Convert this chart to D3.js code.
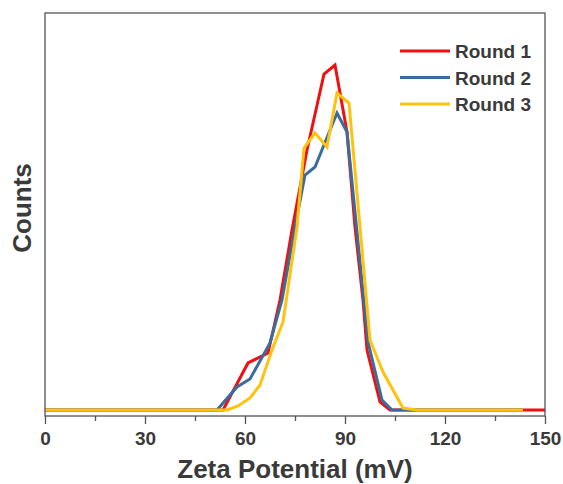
<script src="https://d3js.org/d3.v7.min.js"></script>
<style>
  body { margin: 0; background: #fff; }
  text { font-family: "Liberation Sans", Arial, sans-serif; font-weight: bold; fill: #3a3a3a; }
</style>
<svg id="vis"></svg>
<script>
  // zeta potential (mV) vs counts
  var round1 = [[0,0],[53.4,0],[60.9,47],[66.9,57],[70.5,110],[74.1,180],[78.6,260],[83.7,336],[87,345],
                [90.6,278],[93,183],[95.4,110],[96.6,60],[100.5,8],[103.5,0],[150,0]];
  var round2 = [[0,0],[51.6,0],[57.6,23],[61.5,31],[67.5,67],[71.1,110],[75,183],[78,235],[81,243],
                [87.6,297],[90.6,278],[96.9,68],[101.1,10],[104.1,0],[143.4,0]];
  var round3 = [[0,0],[54.6,0],[57.9,4],[61.5,12],[64.5,25],[68.1,60],[71.4,88],[75.6,183],[77.7,262],
                [81,277],[84.6,263],[87.6,317],[91.2,307],[94.5,183],[97.5,70],[101.4,38],[107.4,2],
                [111.6,0],[143.4,0]];
  var seriesNames = ['Round 1', 'Round 2', 'Round 3'];
  var colors = ['#ee1111', '#3b6c9e', '#ffc30f'];
  var xTicks = [0, 30, 60, 90, 120, 150];
  var xMinor = [15, 45, 75, 105, 135];

  var width = 563, height = 484;
  var plotL = 45, plotR = 545, plotT = 13, plotB = 416;

  var svg = d3.select('#vis')
      .attr('width', width)
      .attr('height', height);

  var x = d3.scaleLinear().domain([0, 150]).range([plotL, plotR]);
  var y = d3.scaleLinear().domain([0, 397]).range([410, plotT]);

  var line = d3.line()
      .x(function(d) { return x(d[0]); })
      .y(function(d) { return y(d[1]); });

  // lines
  [round1, round2, round3].forEach(function(s, i) {
    svg.append('path')
        .datum(s)
        .attr('d', line)
        .attr('fill', 'none')
        .attr('stroke', colors[i])
        .attr('stroke-width', 3);
  });

  // frame
  svg.append('rect')
      .attr('x', plotL).attr('y', plotT)
      .attr('width', plotR - plotL).attr('height', plotB - plotT)
      .attr('fill', 'none')
      .attr('stroke', '#555')
      .attr('stroke-width', 1.3);

  // bottom axis
  var xAxis = svg.append('g')
      .attr('transform', 'translate(0,' + plotB + ')')
      .call(d3.axisBottom(x).tickValues(xTicks).tickSize(8).tickSizeOuter(0).tickPadding(8));
  xAxis.select('.domain').remove();
  xAxis.selectAll('line').attr('stroke', '#555').attr('stroke-width', 1.3);
  xAxis.selectAll('text').attr('font-size', 19).attr('fill', '#3a3a3a')
      .style('font-family', '"Liberation Sans", Arial, sans-serif').style('font-weight', 'bold');

  var minor = svg.append('g')
      .attr('transform', 'translate(0,' + plotB + ')')
      .call(d3.axisBottom(x).tickValues(xMinor).tickSize(5).tickSizeOuter(0).tickFormat(''));
  minor.select('.domain').remove();
  minor.selectAll('line').attr('stroke', '#555').attr('stroke-width', 1.3);

  // axis titles
  svg.append('text')
      .attr('x', (plotL + plotR) / 2)
      .attr('y', 478)
      .attr('text-anchor', 'middle')
      .attr('font-size', 26)
      .text('Zeta Potential (mV)');

  svg.append('text')
      .attr('transform', 'translate(31,208) rotate(-90)')
      .attr('text-anchor', 'middle')
      .attr('font-size', 26)
      .text('Counts');

  // legend
  var legend = svg.selectAll('.legend')
      .data(seriesNames)
      .enter().append('g')
      .attr('transform', function(d, i) { return 'translate(400,' + (51 + i * 26.5) + ')'; });

  legend.append('line')
      .attr('x1', 0).attr('x2', 50)
      .attr('y1', 0).attr('y2', 0)
      .attr('stroke', function(d, i) { return colors[i]; })
      .attr('stroke-width', 3);

  legend.append('text')
      .attr('x', 55)
      .attr('y', 7)
      .attr('font-size', 19)
      .text(function(d) { return d; });
</script>
